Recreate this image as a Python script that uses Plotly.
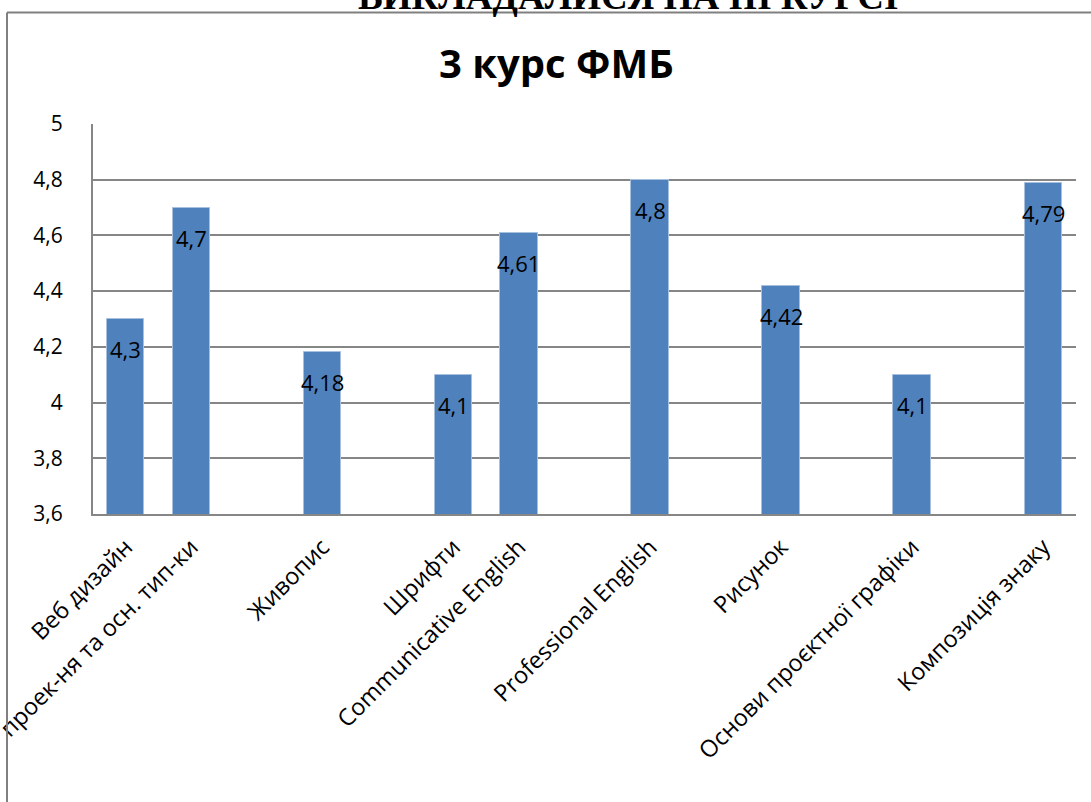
import plotly.graph_objects as go

# ---- data ----
categories = ["Веб дизайн", "проек-ня та осн. тип-ки", "", "Живопис", "", "Шрифти",
              "Communicative English", "", "Professional English", "", "Рисунок", "",
              "Основи проєктної графіки", "", "Композиція знаку"]
values = [4.3, 4.7, None, 4.18, None, 4.1, 4.61, None, 4.8, None, 4.42, None, 4.1, None, 4.79]
value_labels = ["4,3", "4,7", "", "4,18", "", "4,1", "4,61", "", "4,8", "", "4,42", "", "4,1", "", "4,79"]
y_tickvals = [3.6, 3.8, 4.0, 4.2, 4.4, 4.6, 4.8, 5.0]
y_ticktext = ["3,6", "3,8", "4", "4,2", "4,4", "4,6", "4,8", "5"]
title_text = "3 курс ФМБ"
top_text = "ВИКЛАДАЛИСЯ НА ІІІ КУРСІ"

W, H = 1091, 802
L, R, T, B = 93, 1076, 124, 514
pw, ph = R - L, B - T

def px_x(x):
    return (x - L) / pw

def px_y(y):
    return 1 - (y - T) / ph

xs = list(range(len(categories)))

fig = go.Figure()
fig.add_trace(go.Bar(
    x=xs, y=values, width=0.57,
    marker=dict(color="#4F81BD", line=dict(color="#A7C0DE", width=1)),
    hoverinfo="skip",
))

for xi, v, lab in zip(xs, values, value_labels):
    if v is None:
        continue
    fig.add_annotation(x=xi, y=v, xref="x", yref="y", text=lab, showarrow=False,
                       yanchor="middle", yshift=-30,
                       font=dict(family="Open Sans", size=22, color="#000000"))

# title
fig.add_annotation(x=px_x(556), y=px_y(62), xref="paper", yref="paper", text="<b>%s</b>" % title_text,
                   showarrow=False, xanchor="center", yanchor="middle",
                   font=dict(family="Open Sans", size=40, color="#000000"))
# clipped heading at very top
fig.add_annotation(x=px_x(628), y=px_y(19), xref="paper", yref="paper", text="<b>%s</b>" % top_text,
                   showarrow=False, xanchor="center", yanchor="bottom",
                   font=dict(family="Liberation Serif", size=37, color="#000000"))

# outer frame lines
fig.add_shape(type="line", xref="paper", yref="paper", x0=px_x(7), x1=px_x(7), y0=px_y(12.5), y1=px_y(805),
              line=dict(color="#808080", width=2))
fig.add_shape(type="line", xref="paper", yref="paper", x0=px_x(7), x1=px_x(1095), y0=px_y(12.5), y1=px_y(12.5),
              line=dict(color="#808080", width=2))

fig.update_layout(
    width=W, height=H,
    margin=dict(l=L, r=W - R, t=T, b=H - B, pad=0, autoexpand=False),
    plot_bgcolor="white", paper_bgcolor="white",
    showlegend=False,
    bargap=0,
    font=dict(family="Open Sans", size=20, color="#000000"),
)
fig.update_xaxes(
    range=[-0.5, len(categories) - 0.5],
    tickvals=xs, ticktext=categories, tickangle=-45,
    showline=True, linecolor="#868686", linewidth=2,
    showgrid=False, ticks="", tickfont=dict(family="Open Sans", size=23.5),
    ticklabelstandoff=8, automargin=False, ticklabeloverflow="allow",
    fixedrange=True,
)
fig.update_yaxes(
    range=[3.6, 5.0],
    tickvals=y_tickvals, ticktext=y_ticktext,
    showline=True, linecolor="#868686", linewidth=2,
    showgrid=True, gridcolor="#868686", gridwidth=2,
    ticks="", ticklabelstandoff=24, tickfont=dict(family="Open Sans", size=21),
    zeroline=False, fixedrange=True, automargin=False, ticklabeloverflow="allow",
)

fig.write_html("out.html", config={"displayModeBar": False},
               post_script="document.body.style.margin='0';document.body.style.overflow='hidden';")
